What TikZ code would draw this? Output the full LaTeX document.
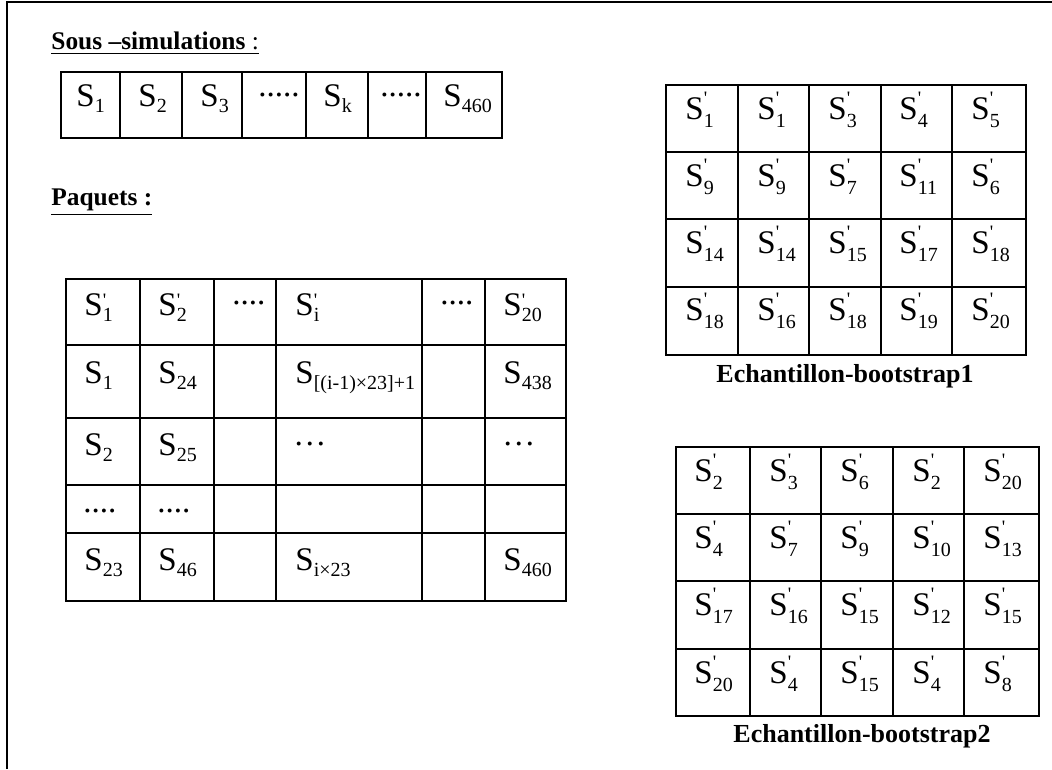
\documentclass[tikz,border=0pt]{standalone}
\usepackage{fontspec}
\setmainfont{Liberation Serif}
\newfontfamily\tickfont[Ligatures=TeXOff]{Liberation Serif}
\usepackage{tikz}

\newcommand{\subsz}{\fontsize{10}{10}\selectfont}
\newcommand{\tick}{{\tickfont\fontsize{9.5}{10}\selectfont\char39}}
\newcommand{\Sa}[1]{S\raisebox{-3pt}{\subsz #1}}
\newcommand{\Sq}[1]{S\rlap{\raisebox{4.5pt}{\tick}}\raisebox{-3pt}{\subsz #1}}
\newcommand{\Sb}[1]{S\rlap{\raisebox{7.5pt}{\tick}}\raisebox{-4pt}{\subsz #1}}

\begin{document}
\begin{tikzpicture}[x=0.5pt, y=-0.5pt,
    cell/.style={line width=1.1pt},
    txt/.style={anchor=base west, inner sep=0pt, font=\fontsize{16.5}{18}\selectfont},
    head/.style={anchor=base west, inner sep=0pt, font=\fontsize{12.7}{14}\selectfont},
    legende/.style={anchor=base, inner sep=0pt, font=\bfseries\fontsize{13}{15}\selectfont}]

\useasboundingbox (0,0) rectangle (1052,769);

% frame
\draw[line width=1pt] (7,769) -- (7,2) -- (1052,2);

% titles
\node[head] (titre1) at (51,50) {\underline{\textbf{Sous –simulations} :}};
\node[head] (titre2) at (51,206) {\underline{\textbf{Paquets :}}};

% sous-simulations
\draw[cell] (61,72) rectangle (502,138);
\draw[cell] (120,72) -- (120,138) (182,72) -- (182,138) (242,72) -- (242,138)
    (306,72) -- (306,138) (368,72) -- (368,138) (426,72) -- (426,138);

\node[txt] (s1) at (76,107) {\Sa{1}};
\node[txt] (s2) at (138,107) {\Sa{2}};
\node[txt] (s3) at (200,107) {\Sa{3}};
\node[txt] (sd1) at (258,97) {.....};
\node[txt] (sk) at (323,107) {\Sa{k}};
\node[txt] (sd2) at (380,97) {.....};
\node[txt] (s460) at (443,107) {\Sa{460}};

% paquets
\draw[cell] (66,279) rectangle (566,601);
\draw[cell] (140,279) -- (140,601) (214,279) -- (214,601) (276,279) -- (276,601)
    (422,279) -- (422,601) (485,279) -- (485,601);
\draw[cell] (66,345) -- (566,345) (66,418) -- (566,418) (66,485) -- (566,485)
    (66,533) -- (566,533);

\node[txt] (p11) at (84,316) {\Sq{1}};
\node[txt] (p12) at (158,316) {\Sq{2}};
\node[txt] (p13) at (232,305) {....};
\node[txt] (p14) at (295,316) {\Sq{i}};
\node[txt] (p15) at (440,305) {....};
\node[txt] (p16) at (503,316) {\Sq{20}};

\node[txt] (p21) at (84,383) {\Sa{1}};
\node[txt] (p22) at (158,383) {\Sa{24}};
\node[txt] (p24) at (295,383) {\Sa{[(i-1)×23]+1}};
\node[txt] (p26) at (503,383) {\Sa{438}};

\node[txt] (p31) at (84,455) {\Sa{2}};
\node[txt] (p32) at (158,455) {\Sa{25}};
\node[txt] (p34) at (293,445) {\ldots};
\node[txt] (p36) at (502,445) {\ldots};

\node[txt] (p41) at (83,512) {....};
\node[txt] (p42) at (157,512) {....};

\node[txt] (p51) at (84,570) {\Sa{23}};
\node[txt] (p52) at (158,570) {\Sa{46}};
\node[txt] (p54) at (295,570) {\Sa{i×23}};
\node[txt] (p56) at (503,570) {\Sa{460}};

% echantillon 1
\draw[cell] (666,85) rectangle (1026,355);
\draw[cell] (738,85) -- (738,355) (809,85) -- (809,355) (881,85) -- (881,355)
    (952,85) -- (952,355);
\draw[cell] (666,152) -- (1026,152) (666,219) -- (1026,219) (666,287) -- (1026,287);

\node[txt] (a11) at (685,120) {\Sb{1}};
\node[txt] (a12) at (757,120) {\Sb{1}};
\node[txt] (a13) at (828,120) {\Sb{3}};
\node[txt] (a14) at (899,120) {\Sb{4}};
\node[txt] (a15) at (971,120) {\Sb{5}};
\node[txt] (a21) at (685,187) {\Sb{9}};
\node[txt] (a22) at (757,187) {\Sb{9}};
\node[txt] (a23) at (828,187) {\Sb{7}};
\node[txt] (a24) at (899,187) {\Sb{11}};
\node[txt] (a25) at (971,187) {\Sb{6}};
\node[txt] (a31) at (685,254) {\Sb{14}};
\node[txt] (a32) at (757,254) {\Sb{14}};
\node[txt] (a33) at (828,254) {\Sb{15}};
\node[txt] (a34) at (899,254) {\Sb{17}};
\node[txt] (a35) at (971,254) {\Sb{18}};
\node[txt] (a41) at (685,321) {\Sb{18}};
\node[txt] (a42) at (757,321) {\Sb{16}};
\node[txt] (a43) at (828,321) {\Sb{18}};
\node[txt] (a44) at (899,321) {\Sb{19}};
\node[txt] (a45) at (971,321) {\Sb{20}};

\node[legende] (ech1) at (845,382) {Echantillon-bootstrap1};

% echantillon 2
\draw[cell] (676,447) rectangle (1039,716);
\draw[cell] (750,447) -- (750,716) (821,447) -- (821,716) (893,447) -- (893,716)
    (964,447) -- (964,716);
\draw[cell] (676,514) -- (1039,514) (676,581) -- (1039,581) (676,649) -- (1039,649);

\node[txt] (b11) at (694,481) {\Sb{2}};
\node[txt] (b12) at (769,481) {\Sb{3}};
\node[txt] (b13) at (840,481) {\Sb{6}};
\node[txt] (b14) at (912,481) {\Sb{2}};
\node[txt] (b15) at (983,481) {\Sb{20}};
\node[txt] (b21) at (694,548) {\Sb{4}};
\node[txt] (b22) at (769,548) {\Sb{7}};
\node[txt] (b23) at (840,548) {\Sb{9}};
\node[txt] (b24) at (912,548) {\Sb{10}};
\node[txt] (b25) at (983,548) {\Sb{13}};
\node[txt] (b31) at (694,615) {\Sb{17}};
\node[txt] (b32) at (769,615) {\Sb{16}};
\node[txt] (b33) at (840,615) {\Sb{15}};
\node[txt] (b34) at (912,615) {\Sb{12}};
\node[txt] (b35) at (983,615) {\Sb{15}};
\node[txt] (b41) at (694,683) {\Sb{20}};
\node[txt] (b42) at (769,683) {\Sb{4}};
\node[txt] (b43) at (840,683) {\Sb{15}};
\node[txt] (b44) at (912,683) {\Sb{4}};
\node[txt] (b45) at (983,683) {\Sb{8}};

\node[legende] (ech2) at (862,742) {Echantillon-bootstrap2};

\end{tikzpicture}
\end{document}
